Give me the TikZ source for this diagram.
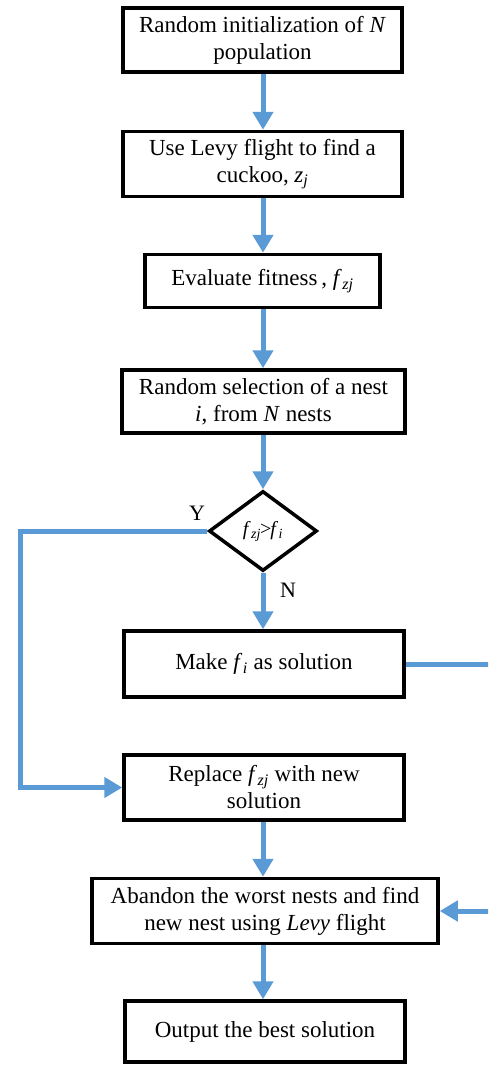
\documentclass[tikz,border=0pt]{standalone}
\usepackage{fontspec}
\setmainfont{Liberation Serif}
\usetikzlibrary{arrows.meta,shapes.geometric}
\definecolor{flowblue}{HTML}{5B9BD5}
\newcommand{\fsb}[1]{\textit{f}\kern0.5pt\textsubscript{\textit{#1}}}
\begin{document}
\begin{tikzpicture}[x=1pt,y=-1pt,
  box/.style={draw=black,line width=3.5pt,fill=white,align=center,inner sep=2pt,font=\fontsize{23}{27}\selectfont},
  dec/.style={draw=black,line width=3.5pt,fill=white,diamond,aspect=1.35,inner sep=0pt,font=\fontsize{20}{24}\selectfont},
  flow/.style={draw=flowblue,line width=5pt,-{Triangle[length=18pt,width=20pt]}},
  lab/.style={font=\fontsize{22}{27}\selectfont}]
\clip (0,0) rectangle (488,1068);
\fill[white] (0,0) rectangle (488,1068);
\node[box,minimum width=279pt,minimum height=64pt] (b1) at (262.5,40) {Random initialization of \textit{N}\\population};
\node[box,minimum width=279pt,minimum height=65pt] (b2) at (262.5,164) {Use Levy flight to find a\\cuckoo, \textit{z}\textsubscript{\textit{j}}};
\node[box,minimum width=235pt,minimum height=53pt] (b3) at (262.5,281) {Evaluate fitness\,, \fsb{zj}};
\node[box,minimum width=283pt,minimum height=63pt] (b4) at (263.5,401.5) {Random selection of a nest\\\textit{i}, from \textit{N} nests};
\node[dec,minimum width=108pt,minimum height=80pt] (d) at (263,531) {\fsb{zj}\kern-1pt>\kern-1pt\fsb{i}};
\node[box,minimum width=280pt,minimum height=66pt] (b6) at (264,664) {Make \fsb{i} as solution};
\node[box,minimum width=280pt,minimum height=65pt] (b7) at (264,787.5) {Replace \fsb{zj} with new\\solution};
\node[box,minimum width=346pt,minimum height=65pt] (b8) at (265,911) {Abandon the worst nests and find\\new nest using \textit{Levy} flight};
\node[box,minimum width=280pt,minimum height=61pt] (b9) at (265,1031.5) {Output the best solution};
\node[lab] (ly) at (197,513) {Y};
\node[lab] (ln) at (288,590) {N};
\coordinate (yc1) at (20,531);
\coordinate (yc2) at (20,787.5);
\coordinate (rc1) at (495,664);
\coordinate (rc2) at (495,911);
\draw[flow] (b1.south -| 263,0) -- (b2.north -| 263,0);
\draw[flow] (b2.south -| 263,0) -- (b3.north -| 263,0);
\draw[flow] (b3.south -| 263,0) -- (b4.north -| 263,0);
\draw[flow] (b4.south -| 263,0) -- (d.north);
\draw[flow] (d.south) -- (b6.north -| d.south);
\draw[flow] (d.west) -- (yc1) -- (yc2) -- (b7.west);
\draw[flow] (b7.south -| 263,0) -- (b8.north -| 263,0);
\draw[flow] (b8.south -| 263,0) -- (b9.north -| 263,0);
\draw[flow,-] (b6.east) -- (rc1) -- (rc2);
\draw[flow] (rc2) -- (b8.east);
\end{tikzpicture}
\end{document}
